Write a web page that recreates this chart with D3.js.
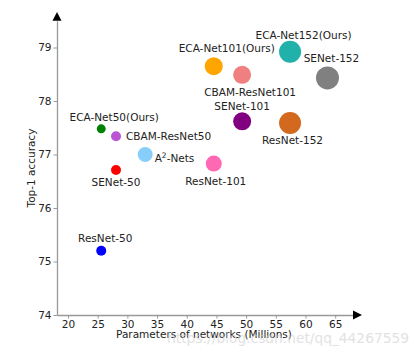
<!DOCTYPE html>
<html><head><meta charset="utf-8">
<script src="https://cdn.jsdelivr.net/npm/d3@7"></script>
<style>body{margin:0;background:#fff}svg{display:block}text{font-family:"DejaVu Sans",sans-serif}</style>
</head><body>
<svg id="c" width="420" height="357"></svg>
<script>
// ---- data ----
const models = ["ResNet-50","ECA-Net50(Ours)","CBAM-ResNet50","SENet-50","A2-Nets","ResNet-101","ECA-Net101(Ours)","CBAM-ResNet101","SENet-101","ECA-Net152(Ours)","ResNet-152","SENet-152"];
const params = [25.6, 25.6, 28.09, 28.09, 33.0, 44.55, 44.55, 49.33, 49.33, 57.4, 57.4, 63.7];
const top1 = [75.2, 77.48, 77.34, 76.71, 77.0, 76.83, 78.65, 78.49, 77.62, 78.92, 77.59, 78.43];
const markerSize = [25, 20, 25, 25, 56, 64, 81, 81, 81, 121, 121, 132];
const colors = ["#0000ff","#008000","#ba55d3","#ff0000","#87cefa","#ff69b4","#ffa500","#f08080","#800080","#20b2aa","#d2691e","#808080"];
const xTicks = [20,25,30,35,40,45,50,55,60,65];
const yTicks = [74,75,76,77,78,79];
// label layout (offsets in px from the marker centre)
const labelLayout = [
  {dx:4, dy:-9, a:"middle"},
  {dx:13, dy:-8, a:"middle"},
  {dx:10, dy:3.6, a:"start"},
  {dx:0, dy:16, a:"middle"},
  {dx:9.5, dy:7, a:"start"},
  {dx:2, dy:21, a:"middle"},
  {dx:13, dy:-14, a:"middle"},
  {dx:8, dy:21, a:"middle"},
  {dx:0, dy:-11, a:"middle"},
  {dx:13.5, dy:-13, a:"middle"},
  {dx:2.5, dy:21, a:"middle"},
  {dx:4, dy:-16, a:"middle"}
];

const svg = d3.select("#c");
const x = d3.scaleLinear().domain([18.15, 68]).range([57, 353]);
const y = d3.scaleLinear().domain([74, 79.5]).range([315, 20.75]);
const r = d3.scaleSqrt().domain([0, 100]).range([0, 10]);
const axisColor = "#999";

// axes
const gx = svg.append("g").attr("transform","translate(0,315)")
  .call(d3.axisBottom(x).tickValues(xTicks).tickFormat(d3.format("d")).tickSize(3.5).tickSizeOuter(0).tickPadding(2));
const gy = svg.append("g").attr("transform","translate(57,0)")
  .call(d3.axisLeft(y).tickValues(yTicks).tickFormat(d3.format("d")).tickSize(3.5).tickSizeOuter(0).tickPadding(2));
[gx, gy].forEach(g => {
  g.attr("font-family", null);
  g.select(".domain").attr("stroke", axisColor).attr("stroke-width", 1.3);
  g.selectAll(".tick line").attr("stroke", axisColor).attr("stroke-width", 1);
  g.selectAll(".tick text").attr("fill","#222").attr("font-size", 10.5);
});
// arrows
svg.append("path").attr("d", `M${x.range()[1]},310.5 L${x.range()[1]+9},315 L${x.range()[1]},319.5 Z`).attr("fill","#000");
svg.append("path").attr("d", `M52.5,${y.range()[1]} L57,12 L61.5,${y.range()[1]} Z`).attr("fill","#000");

// axis titles
svg.append("text").attr("x", 204).attr("y", 337.5).attr("text-anchor","middle")
  .attr("font-size", 10.5).attr("fill","#222").text("Parameters of networks (Millions)");
svg.append("text").attr("transform","translate(35,168) rotate(-90)").attr("text-anchor","middle")
  .attr("font-size", 10.5).attr("fill","#222").text("Top-1 accuracy");

// points
const data = models.map((m,i)=>({m, p:params[i], a:top1[i], s:markerSize[i], c:colors[i], l:labelLayout[i]}));
svg.append("g").selectAll("circle").data(data).join("circle")
  .attr("cx", d=>x(d.p)).attr("cy", d=>y(d.a)).attr("r", d=>r(d.s)).attr("fill", d=>d.c);

// labels
const lab = svg.append("g").selectAll("text").data(data).join("text")
  .attr("x", d=>x(d.p)+d.l.dx).attr("y", d=>y(d.a)+d.l.dy)
  .attr("text-anchor", d=>d.l.a).attr("font-size", 10.5).attr("fill","#222");
lab.each(function(d){
  const t = d3.select(this);
  if (d.m === "A2-Nets") {
    t.append("tspan").text("A");
    t.append("tspan").attr("dy",-4).attr("font-size",7.5).text("2");
    t.append("tspan").attr("dy",4).text("-Nets");
  } else t.text(d.m);
});

// watermark
svg.append("text").attr("x", 167).attr("y", 343).attr("text-anchor","start")
  .attr("font-family","Liberation Sans, Arial, sans-serif")
  .attr("font-size", 13.5).attr("textLength", 242).attr("lengthAdjust","spacingAndGlyphs")
  .attr("fill","#d0d0d0").attr("opacity",0.6).text("https://blog.csdn.net/qq_44267559");
</script>
</body></html>
